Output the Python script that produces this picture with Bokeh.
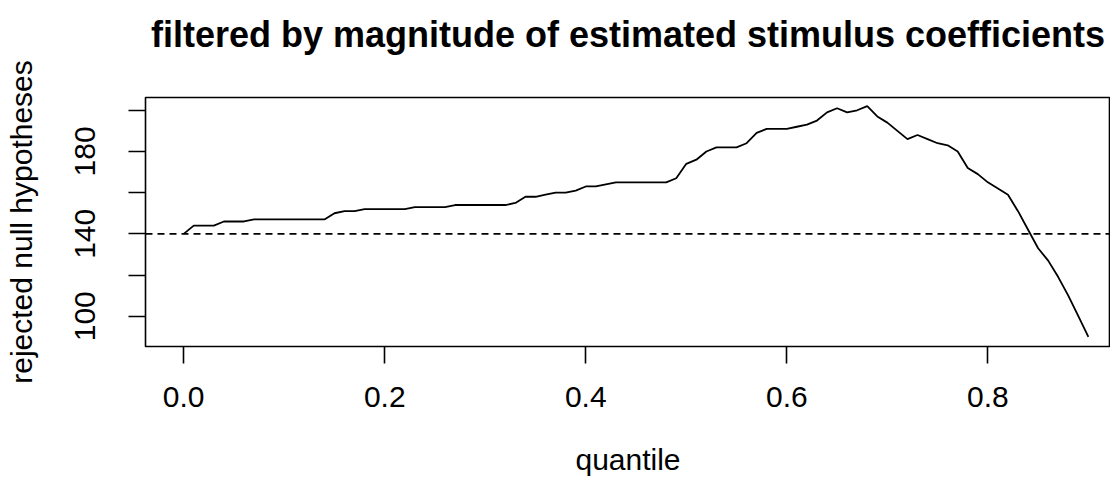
from bokeh.plotting import figure
from bokeh.models import Span, FixedTicker, ColumnDataSource, Range1d, LinearAxis
from bokeh.embed import file_html
from bokeh.resources import INLINE

# ---- data ----
quantile = [0.00, 0.01, 0.02, 0.03, 0.04, 0.05, 0.06, 0.07, 0.08, 0.09,
            0.10, 0.11, 0.12, 0.13, 0.14, 0.15, 0.16, 0.17, 0.18, 0.19,
            0.20, 0.21, 0.22, 0.23, 0.24, 0.25, 0.26, 0.27, 0.28, 0.29,
            0.30, 0.31, 0.32, 0.33, 0.34, 0.35, 0.36, 0.37, 0.38, 0.39,
            0.40, 0.41, 0.42, 0.43, 0.44, 0.45, 0.46, 0.47, 0.48, 0.49,
            0.50, 0.51, 0.52, 0.53, 0.54, 0.55, 0.56, 0.57, 0.58, 0.59,
            0.60, 0.61, 0.62, 0.63, 0.64, 0.65, 0.66, 0.67, 0.68, 0.69,
            0.70, 0.71, 0.72, 0.73, 0.74, 0.75, 0.76, 0.77, 0.78, 0.79,
            0.80, 0.81, 0.82, 0.83, 0.84, 0.85, 0.86, 0.87, 0.88, 0.89,
            0.90]
rejected = [140, 144, 144, 144, 146, 146, 146, 147, 147, 147,
            147, 147, 147, 147, 147, 150, 151, 151, 152, 152,
            152, 152, 152, 153, 153, 153, 153, 154, 154, 154,
            154, 154, 154, 155, 158, 158, 159, 160, 160, 161,
            163, 163, 164, 165, 165, 165, 165, 165, 165, 167,
            174, 176, 180, 182, 182, 182, 184, 189, 191, 191,
            191, 192, 193, 195, 199, 201, 199, 200, 202, 197,
            194, 190, 186, 188, 186, 184, 183, 180, 172, 169,
            165, 162, 159, 151, 142, 133, 127, 119, 110, 100,
            90]
threshold = 140
x_ticks = [0.0, 0.2, 0.4, 0.6, 0.8]
y_ticks = [100, 120, 140, 160, 180, 200]
y_labels = {100: "100", 120: "", 140: "140", 160: "", 180: "180", 200: ""}

title_text = "filtered by magnitude of estimated stimulus coefficients"
x_label = "quantile"
y_label = "rejected null hypotheses"

FONT = "Liberation Sans"

p = figure(width=1110, height=481, output_backend="svg", toolbar_location=None,
           x_range=Range1d(-0.038, 0.922), y_range=Range1d(85.3, 206.2),
           min_border_left=145, min_border_right=0, min_border_top=97,
           min_border_bottom=135)

p.background_fill_color = "white"
p.border_fill_color = "white"
p.outline_line_color = "black"
p.outline_line_width = 1.6
p.grid.visible = False

src = ColumnDataSource(dict(q=quantile, r=rejected))
p.line("q", "r", source=src, line_color="black", line_width=1.8)
p.add_layout(Span(location=threshold, dimension="width", line_color="black",
                  line_width=1.8, line_dash="7 5"))

for ax in (p.xaxis[0], p.yaxis[0]):
    ax.axis_line_color = None
    ax.major_tick_line_color = "black"
    ax.major_tick_line_width = 1.6
    ax.major_tick_out = 17
    ax.major_tick_in = 0
    ax.minor_tick_line_color = None
    ax.major_label_text_font = FONT
    ax.major_label_text_font_size = "30px"
    ax.major_label_text_color = "black"
    ax.axis_label_text_font = FONT
    ax.axis_label_text_font_size = "30px"
    ax.axis_label_text_font_style = "normal"
    ax.axis_label_text_color = "black"

p.xaxis.ticker = FixedTicker(ticks=x_ticks)
p.xaxis.major_label_overrides = {0.0: "0.0"}
p.xaxis.major_label_standoff = 23
p.xaxis.axis_label = x_label
p.xaxis.axis_label_standoff = 33

p.yaxis.ticker = FixedTicker(ticks=y_ticks)
p.yaxis.major_label_overrides = y_labels
p.yaxis.major_label_orientation = "vertical"
p.yaxis.major_label_standoff = 33
p.yaxis.axis_label = y_label
p.yaxis.axis_label_standoff = 35

# title drawn as the label of a bare axis above the frame
title_axis = LinearAxis(axis_label=title_text, ticker=FixedTicker(ticks=[]),
                        axis_line_color=None, major_tick_line_color=None,
                        minor_tick_line_color=None, major_tick_out=0,
                        major_label_text_font_size="0px",
                        axis_label_text_font=FONT,
                        axis_label_text_font_size="36px",
                        axis_label_text_font_style="bold",
                        axis_label_text_color="black",
                        axis_label_standoff=43)
p.add_layout(title_axis, "above")

open("out.html", "w").write(file_html(p, INLINE))
